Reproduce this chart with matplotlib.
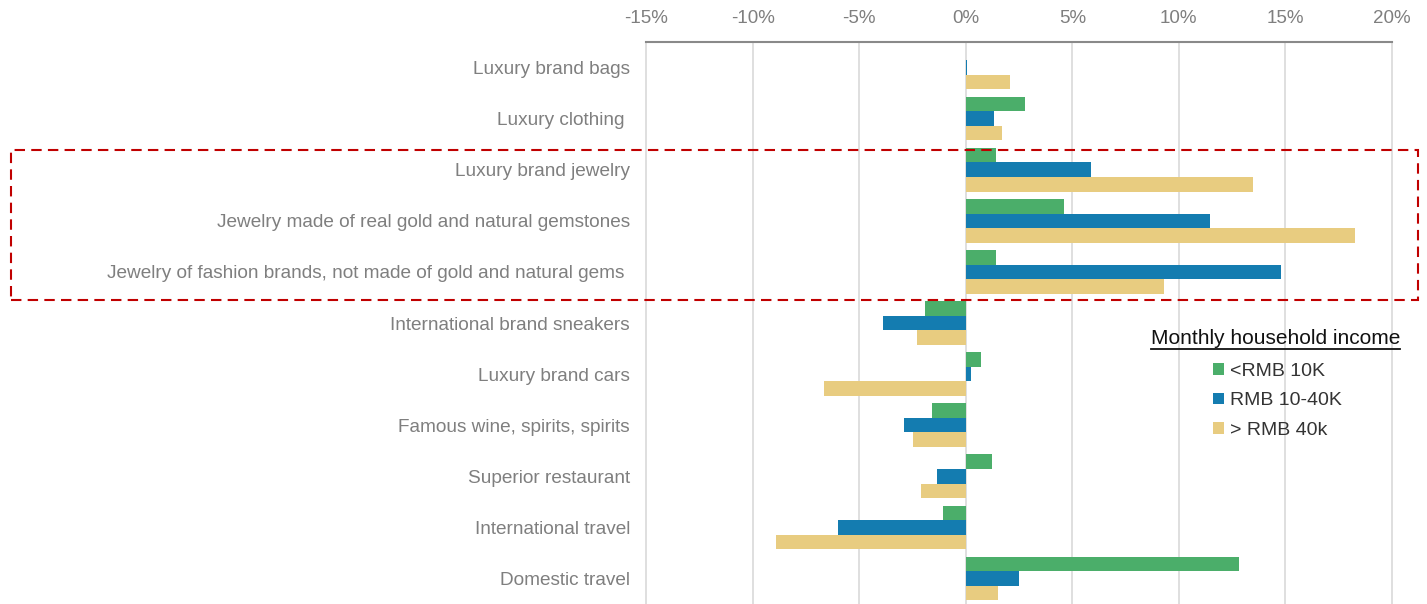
import matplotlib
matplotlib.use("Agg")
import matplotlib.pyplot as plt
import numpy as np
from matplotlib.patches import Rectangle
from matplotlib.lines import Line2D
from matplotlib.ticker import FuncFormatter

plt.rcParams['font.family'] = ['Liberation Sans', 'DejaVu Sans']

categories = [
    "Luxury brand bags",
    "Luxury clothing ",
    "Luxury brand jewelry",
    "Jewelry made of real gold and natural gemstones",
    "Jewelry of fashion brands, not made of gold and natural gems ",
    "International brand sneakers",
    "Luxury brand cars",
    "Famous wine, spirits, spirits",
    "Superior restaurant",
    "International travel",
    "Domestic travel",
]
series_names = ["<RMB 10K", "RMB 10-40K", "> RMB 40k"]
low_income = [0.0, 2.8, 1.43, 4.6, 1.4, -1.93, 0.7, -1.58, 1.23, -1.05, 12.84]
mid_income = [0.08, 1.35, 5.9, 11.45, 14.79, -3.9, 0.26, -2.88, -1.36, -5.98, 2.5]
high_income = [2.07, 1.7, 13.49, 18.27, 9.32, -2.27, -6.63, -2.46, -2.08, -8.89, 1.51]
colors = ["#4BAE6A", "#147CB0", "#E8CC80"]
xticks = [-15, -10, -5, 0, 5, 10, 15, 20]

W, H = 1427, 604
fig = plt.figure(figsize=(W / 100, H / 100), dpi=100)
ax = fig.add_axes([646 / W, 0, (1392 - 646) / W, 1 - 42 / H])

y = np.arange(len(categories))
h = 0.285
handles = []
for i, (vals, c, name) in enumerate(zip([low_income, mid_income, high_income], colors, series_names)):
    b = ax.barh(y + (i - 1) * h, vals, height=h, color=c, edgecolor="none", linewidth=0,
                label=name, zorder=3)
    handles.append(b)

ax.set_xlim(-15, 20)
ax.set_ylim(len(categories) - 0.5, -0.5)
ax.set_xticks(xticks)
ax.xaxis.set_major_formatter(FuncFormatter(lambda v, p: f"{v:.0f}%"))
ax.xaxis.tick_top()
ax.tick_params(axis="x", length=0, pad=11, labelsize=13.5, labelcolor="#7f7f7f")
ax.set_yticks(y)
ax.set_yticklabels(categories)
ax.tick_params(axis="y", length=0, pad=11.5, labelsize=13.7, labelcolor="#7f7f7f")
ax.grid(axis="x", color="#d9d9d9", linewidth=1.2, zorder=0)
for gl in ax.get_xgridlines():
    gl.set_clip_on(False)
for s in ["left", "right", "bottom"]:
    ax.spines[s].set_visible(False)
ax.spines["top"].set_color("#898989")
ax.spines["top"].set_linewidth(1.5)

# legend entries
leg = ax.legend(handles=handles, loc="upper left",
                bbox_to_anchor=(1213 / W, 1 - 363 / H), bbox_transform=fig.transFigure,
                frameon=False, fontsize=14, handlelength=0.55, handleheight=0.55,
                handletextpad=0.3, labelspacing=0.64, borderpad=0, borderaxespad=0)
for t in leg.get_texts():
    t.set_color("#333333")

# legend title with underline
title = fig.text(1400 / W, 1 - 338 / H, "Monthly household income", ha="right", va="center",
                 fontsize=15, color="#111111")
fig.canvas.draw()
bb = title.get_window_extent()
fig.add_artist(Line2D([bb.x0, bb.x1], [bb.y0 - 1, bb.y0 - 1], transform=None,
                      color="#111111", linewidth=1.3))

# highlight rectangle
rect = Rectangle((11 / W, 1 - 300 / H), (1418 - 11) / W, 150 / H, transform=fig.transFigure,
                 fill=False, edgecolor="#C00000", linewidth=1.5, linestyle=(0, (5, 3)))
fig.add_artist(rect)

fig.savefig("out.png", dpi=100)
